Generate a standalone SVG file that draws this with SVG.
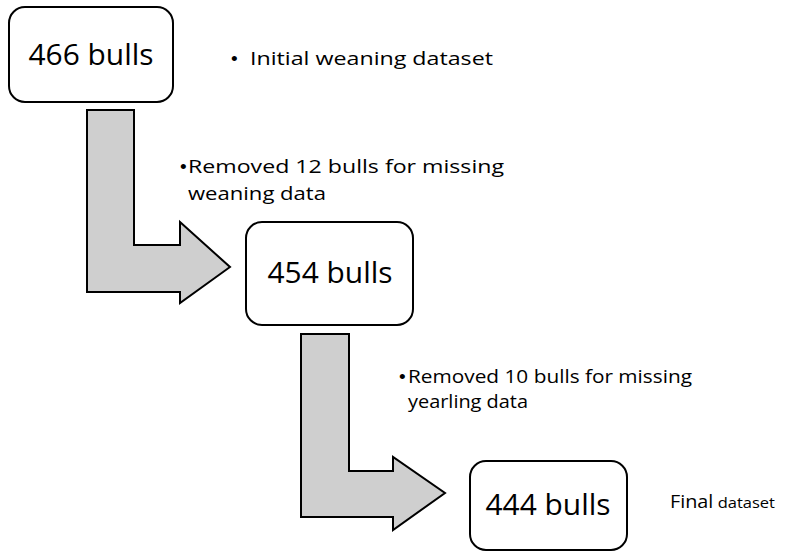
<svg xmlns="http://www.w3.org/2000/svg" width="807" height="552" viewBox="0 0 807 552">
<style>
.box{fill:#fff;stroke:#000;stroke-width:2}
.arrow{fill:#cfcfcf;stroke:#000;stroke-width:2;stroke-linejoin:miter}
.big{font-family:"Open Sans","Noto Sans",sans-serif;font-size:30px;fill:#000;text-anchor:middle}
.lbl{font-family:"Open Sans","Noto Sans",sans-serif;font-size:18px;fill:#000}
.bul{font-family:"Liberation Sans",Arial,sans-serif;font-size:19px;fill:#000}
</style>
<rect width="807" height="552" fill="#fff"/>
<g id="connectors">
<path class="arrow" d="M87,110 H134 V245 H180 V222 L230,267 L180,303 V292 H87 Z"/>
<path class="arrow" d="M301,334 H349 V471 H393 V457 L445,493 L393,530 V517 H301 Z"/>
</g>
<g id="node1">
<rect class="box" x="9" y="7" width="164" height="95" rx="16"/>
<text class="big" x="91" y="65" textLength="125" lengthAdjust="spacingAndGlyphs">466 bulls</text>
</g>
<g id="node2">
<rect class="box" x="246" y="222" width="167" height="103" rx="16"/>
<text class="big" x="330" y="283" textLength="125" lengthAdjust="spacingAndGlyphs">454 bulls</text>
</g>
<g id="node3">
<rect class="box" x="470" y="461" width="157" height="89" rx="16"/>
<text class="big" x="548" y="515" textLength="125" lengthAdjust="spacingAndGlyphs">444 bulls</text>
</g>
<g id="labels">
<text class="bul" x="231" y="65">•</text>
<text class="lbl" x="250" y="65" textLength="243" lengthAdjust="spacingAndGlyphs">Initial weaning dataset</text>
<text class="bul" x="180" y="173">•</text>
<text class="lbl" x="188" y="173" textLength="316" lengthAdjust="spacingAndGlyphs">Removed 12 bulls for missing</text>
<text class="lbl" x="188" y="200" textLength="138" lengthAdjust="spacingAndGlyphs">weaning data</text>
<text class="bul" x="399" y="383" font-size="17px">•</text>
<text class="lbl" x="408" y="383" font-size="17px" textLength="284" lengthAdjust="spacingAndGlyphs">Removed 10 bulls for missing</text>
<text class="lbl" x="408" y="408" font-size="17px" textLength="120" lengthAdjust="spacingAndGlyphs">yearling data</text>
<text class="lbl" x="670" y="508" textLength="105" lengthAdjust="spacingAndGlyphs"><tspan font-size="18px">Final</tspan><tspan font-size="15px"> dataset</tspan></text>
</g>
</svg>
